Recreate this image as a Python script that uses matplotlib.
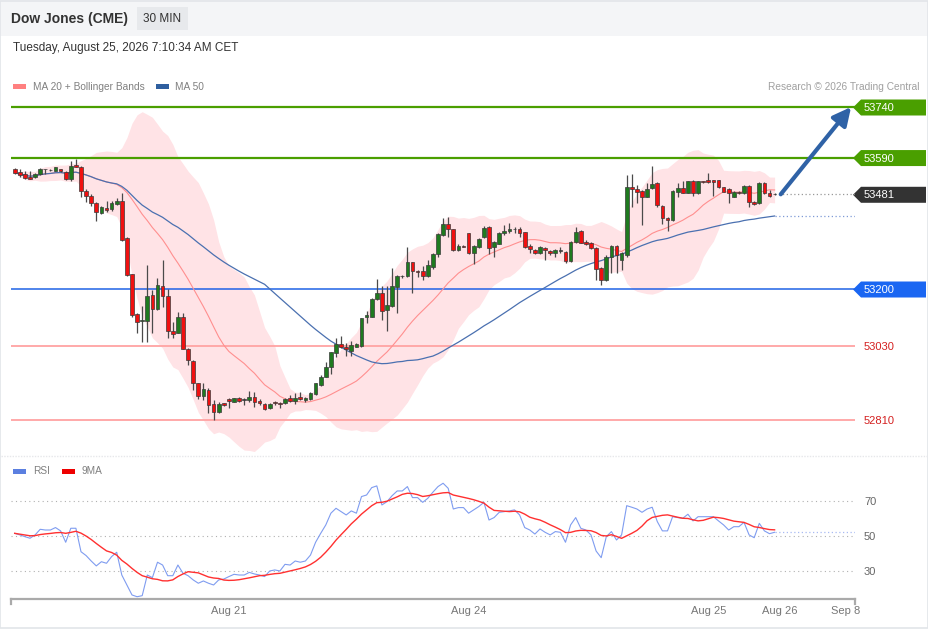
import numpy as np
import pandas as pd
import matplotlib
matplotlib.use("Agg")
import matplotlib.pyplot as plt
from matplotlib.patches import Polygon, Rectangle

plt.rcParams["font.family"] = ["Liberation Sans", "DejaVu Sans"]

# ---- data (30 min candles) ----
opens = [53555, 53547, 53540, 53533, 53531, 53540, 53555, 53553, 53551, 53555,
         53548, 53525, 53567, 53563, 53491, 53477, 53455, 53426, 53440, 53436,
         53452, 53461, 53350, 53244, 53125, 53106, 53106, 53182, 53140, 53209,
         53179, 53075, 53070, 53118, 53021, 52987, 52920, 52883, 52900, 52858,
         52836, 52861, 52875, 52866, 52876, 52871, 52871, 52881, 52867, 52859,
         52846, 52865, 52863, 52861, 52876, 52867, 52881, 52871, 52874, 52889,
         52915, 52940, 52969, 53011, 53036, 53028, 53016, 53028, 53031, 53118,
         53118, 53170, 53187, 53138, 53149, 53207, 53238, 53239, 53280, 53252,
         53254, 53239, 53266, 53303, 53360, 53393, 53377, 53316, 53328, 53365,
         53306, 53325, 53353, 53385, 53325, 53335, 53365, 53372, 53377, 53379,
         53368, 53327, 53317, 53306, 53323, 53314, 53306, 53313, 53311, 53284,
         53340, 53373, 53340, 53337, 53321, 53261, 53227, 53296, 53327, 53286,
         53301, 53504, 53496, 53492, 53474, 53499, 53514, 53446, 53411, 53405,
         53489, 53499, 53486, 53519, 53484, 53519, 53522, 53522, 53522, 53502,
         53496, 53474, 53489, 53484, 53506, 53459, 53454, 53514, 53484, 53481]
highs = [53558, 53556, 53550, 53551, 53545, 53559, 53557, 53557, 53563, 53557,
         53550, 53581, 53585, 53565, 53496, 53482, 53458, 53446, 53461, 53462,
         53469, 53484, 53353, 53246, 53128, 53149, 53271, 53197, 53232, 53286,
         53199, 53103, 53133, 53130, 53024, 52989, 52922, 52920, 52905, 52871,
         52866, 52863, 52877, 52878, 52879, 52876, 52898, 52895, 52873, 52863,
         52861, 52868, 52866, 52876, 52885, 52891, 52893, 52881, 52895, 52921,
         52945, 52984, 53014, 53056, 53060, 53039, 53046, 53040, 53114, 53136,
         53172, 53229, 53209, 53209, 53261, 53241, 53241, 53324, 53281, 53256,
         53268, 53286, 53306, 53365, 53410, 53415, 53379, 53333, 53331, 53367,
         53330, 53351, 53387, 53387, 53343, 53369, 53390, 53395, 53385, 53383,
         53370, 53335, 53320, 53327, 53325, 53316, 53320, 53325, 53314, 53343,
         53383, 53375, 53345, 53340, 53325, 53266, 53301, 53330, 53330, 53311,
         53539, 53542, 53509, 53494, 53514, 53565, 53516, 53449, 53413, 53494,
         53514, 53519, 53521, 53522, 53521, 53521, 53544, 53523, 53523, 53503,
         53499, 53491, 53491, 53509, 53509, 53461, 53516, 53516, 53494, 53485]
lows = [53541, 53533, 53526, 53525, 53528, 53538, 53541, 53550, 53549, 53547,
        53523, 53521, 53561, 53474, 53457, 53446, 53403, 53424, 53429, 53432,
        53449, 53343, 53238, 53118, 53068, 53044, 53044, 53070, 53138, 53148,
        53054, 53055, 53068, 53021, 52975, 52900, 52873, 52871, 52831, 52811,
        52833, 52854, 52846, 52864, 52866, 52856, 52866, 52851, 52856, 52841,
        52843, 52857, 52846, 52859, 52865, 52859, 52871, 52864, 52871, 52886,
        52912, 52938, 52948, 52999, 53025, 53001, 53001, 53027, 53028, 53099,
        53116, 53167, 53108, 53076, 53147, 53130, 53232, 53235, 53187, 53237,
        53227, 53237, 53259, 53296, 53357, 53355, 53314, 53314, 53324, 53304,
        53274, 53323, 53350, 53304, 53294, 53333, 53360, 53365, 53367, 53353,
        53323, 53308, 53303, 53304, 53286, 53301, 53296, 53306, 53276, 53280,
        53337, 53336, 53330, 53318, 53227, 53212, 53225, 53247, 53247, 53256,
        53296, 53444, 53455, 53390, 53472, 53496, 53444, 53392, 53373, 53403,
        53474, 53484, 53484, 53476, 53483, 53514, 53514, 53476, 53500, 53487,
        53454, 53472, 53482, 53482, 53444, 53449, 53452, 53482, 53474, 53478]
closes = [53545, 53537, 53530, 53527, 53540, 53556, 53556, 53552, 53561, 53551,
          53525, 53565, 53562, 53492, 53477, 53454, 53428, 53444, 53434, 53454,
          53462, 53345, 53241, 53123, 53103, 53107, 53179, 53140, 53212, 53180,
          53076, 53067, 53118, 53022, 52989, 52920, 52883, 52902, 52856, 52836,
          52859, 52856, 52867, 52876, 52869, 52871, 52879, 52866, 52861, 52843,
          52859, 52861, 52859, 52873, 52868, 52877, 52873, 52876, 52891, 52920,
          52940, 52969, 53012, 53036, 53028, 53021, 53034, 53036, 53113, 53123,
          53170, 53187, 53136, 53152, 53209, 53238, 53239, 53281, 53252, 53250,
          53239, 53271, 53303, 53362, 53393, 53377, 53316, 53328, 53325, 53306,
          53328, 53349, 53380, 53321, 53338, 53365, 53372, 53377, 53377, 53367,
          53325, 53318, 53306, 53325, 53316, 53306, 53317, 53313, 53284, 53340,
          53370, 53337, 53334, 53321, 53258, 53227, 53296, 53327, 53301, 53306,
          53504, 53496, 53489, 53474, 53496, 53512, 53449, 53410, 53405, 53492,
          53499, 53486, 53519, 53486, 53519, 53516, 53516, 53516, 53502, 53489,
          53484, 53489, 53484, 53506, 53459, 53452, 53514, 53484, 53476, 53481]

rsi = [51.5, 50.6, 49.6, 48.7, 50.6, 53.8, 53.4, 53.4, 54.8, 52.9,
       46.4, 54.4, 54.4, 41.0, 38.8, 35.7, 32.9, 35.3, 34.4, 38.2,
       40.7, 27.7, 22.0, 16.3, 15.3, 15.9, 27.7, 26.2, 35.0, 33.4,
       27.3, 27.3, 33.4, 28.7, 27.3, 24.9, 23.0, 24.3, 23.0, 22.0,
       24.9, 25.4, 26.8, 28.1, 27.7, 27.7, 29.2, 28.3, 27.7, 26.8,
       30.0, 30.6, 30.0, 33.8, 33.4, 35.7, 35.0, 35.7, 39.1, 46.4,
       51.5, 56.3, 63.0, 65.8, 63.9, 62.0, 64.3, 63.0, 72.5, 73.4,
       77.6, 78.6, 67.7, 69.6, 73.0, 75.7, 75.7, 78.2, 71.9, 71.9,
       69.2, 71.5, 75.0, 78.2, 80.1, 77.2, 65.4, 66.2, 66.2, 63.0,
       64.9, 66.8, 69.2, 59.1, 60.5, 63.5, 63.9, 64.3, 64.9, 62.0,
       54.8, 53.4, 51.1, 54.0, 52.1, 50.6, 52.5, 52.1, 46.4, 56.3,
       60.5, 54.4, 53.4, 50.6, 41.4, 37.6, 49.6, 52.5, 47.7, 50.6,
       67.3, 66.4, 65.4, 63.5, 65.4, 66.4, 58.2, 52.9, 52.9, 61.0,
       60.5, 60.1, 62.4, 58.6, 61.0, 61.0, 61.0, 61.0, 58.6, 56.3,
       53.4, 55.3, 55.3, 57.8, 50.6, 49.0, 57.2, 52.9, 51.3, 52.1]

resistances = [53740, 53590]
pivot = 53200
supports = [53030, 52810]
target = 53740

date_ticks = [42, 89, 136, 150, 163]
date_labels = ["Aug 21", "Aug 24", "Aug 25", "Aug 26", "Sep 8"]
rsi_levels = [30, 50, 70]

title = "Dow Jones (CME)"
interval = "30 MIN"
stamp = "Tuesday, August 25, 2026 7:10:34 AM CET"

# ---- colours ----
GREEN_LVL = "#4a9f00"
BLUE_LVL = "#1f63e6"
RED_LVL = "#ffa3a3"
CANDLE_UP = "#1f7a1f"
CANDLE_DN = "#f01010"
BAND = "#ffe3e6"
MA20_C = "#ff8f8f"
MA50_C = "#4a70b0"

# ---- indicators from closes ----
s = pd.Series(closes, dtype=float)
ma20 = s.rolling(20, min_periods=1).mean()
sd20 = s.rolling(20, min_periods=1).std(ddof=0).fillna(0)
upper = ma20 + 2 * sd20
lower = ma20 - 2 * sd20
ma50 = s.rolling(50, min_periods=1).mean()
rsi_s = pd.Series(rsi)
rsi_ma = rsi_s.rolling(9, min_periods=1).mean()

W, H = 929, 629
fig = plt.figure(figsize=(W / 100, H / 100), dpi=100)
fig.patch.set_facecolor("white")

# background/overlay in pixel coordinates (top-down)
bg = fig.add_axes([0, 0, 1, 1], zorder=0)
bg.set_xlim(0, W)
bg.set_ylim(H, 0)
bg.axis("off")

X0, X1 = 11, 855
x_lo, x_hi = (X0 - 14.7) / 5.1, (X1 - 14.7) / 5.1


def rect(top, bottom):
    return [X0 / W, 1 - bottom / H, (X1 - X0) / W, (bottom - top) / H]


ax = fig.add_axes(rect(95, 455), zorder=2)
ax.set_facecolor("none")
ax.set_xlim(x_lo, x_hi)
ax.set_ylim(52707.5, 53775.6)
ax.axis("off")

idx = np.arange(len(closes))
o = np.array(opens, dtype=float)
c = np.array(closes, dtype=float)

# bollinger band + moving averages
ax.fill_between(idx, lower, upper, color=BAND, lw=0, zorder=1)
ax.plot(idx, ma20, color=MA20_C, lw=0.8, zorder=3)
ax.plot(idx, ma50, color=MA50_C, lw=0.9, zorder=3)

# level lines
for lv in resistances:
    ax.hlines(lv, x_lo, x_hi, color=GREEN_LVL, lw=1.6, zorder=2)
ax.hlines(pivot, x_lo, x_hi, color=BLUE_LVL, lw=1.1, zorder=2)
for lv in supports:
    ax.hlines(lv, x_lo, x_hi, color=RED_LVL, lw=1.3, zorder=2)

# candles
cols = np.where(c > o, CANDLE_UP, np.where(c < o, CANDLE_DN, "#444444"))
ax.vlines(idx, lows, highs, color="#4a4a4a", lw=0.9, zorder=4)
body_lo = np.minimum(o, c)
body_h = np.maximum(np.abs(c - o), 1.5)
ax.bar(idx, body_h, bottom=body_lo, width=0.72, color=cols,
       edgecolor="#3a3a3a", linewidth=0.5, zorder=5)

# dotted extensions
ax.hlines(closes[-1], idx[-1], x_hi, color="#999999", lw=0.9,
          linestyles=(0, (1, 2)), zorder=3)
ax.hlines(ma50.iloc[-1], idx[-1], x_hi, color="#7f9ad6", lw=0.9,
          linestyles=(0, (1, 2)), zorder=3)

# target arrow
ax.annotate("", xy=(164.0, target), xytext=(150.2, closes[-1]),
            arrowprops=dict(arrowstyle="-|>,head_length=0.9,head_width=0.45",
                            color="#2f62a6", lw=3, mutation_scale=12,
                            shrinkA=0, shrinkB=0),
            zorder=6, annotation_clip=False)


def to_px(axis, val):
    return H - axis.transData.transform((0, val))[1]


def tag(val, color):
    cy = to_px(ax, val) + 0.5
    pts = [(853, cy), (861, cy - 8), (926, cy - 8), (926, cy + 8), (861, cy + 8)]
    bg.add_patch(Polygon(pts, closed=True, color=color, lw=0, zorder=3))
    bg.text(864, cy + 0.5, f"{val:.0f}", color="white", fontsize=8,
            va="center", ha="left", zorder=4)


for lv in resistances:
    tag(lv, GREEN_LVL)
tag(closes[-1], "#333333")
tag(pivot, "#1a66f2")
for lv in supports:
    bg.text(864, to_px(ax, lv) + 1, f"{lv:.0f}", color="#d42020", fontsize=8,
            va="center", ha="left")

# ---- RSI panel ----
ax2 = fig.add_axes(rect(478, 599), zorder=2)
ax2.set_facecolor("none")
ax2.set_xlim(x_lo, x_hi)
ax2.set_ylim(14, 83.1)
for sp in ["top", "left", "right"]:
    ax2.spines[sp].set_visible(False)
ax2.spines["bottom"].set_color("#aaaaaa")
ax2.spines["bottom"].set_linewidth(1.6)
ax2.hlines(rsi_levels, x_lo, x_hi, color="#b0b0b0", lw=0.8,
           linestyles=(0, (1, 3)))
ax2.plot(idx, rsi_s, color="#7f9cf0", lw=0.8, zorder=3)
ax2.plot(idx, rsi_ma, color="#ff3030", lw=1.0, zorder=4)
ax2.hlines(rsi[-1], idx[-1], x_hi, color="#a8baf2", lw=0.9,
           linestyles=(0, (1, 2)))
ax2.yaxis.tick_right()
ax2.set_yticks(rsi_levels)
ax2.set_yticklabels([str(v) for v in rsi_levels])
ax2.tick_params(axis="y", length=0, pad=6.5, labelsize=8, labelcolor="#666666")
ax2.set_xticks(date_ticks)
ax2.set_xticklabels(date_labels)
ax2.tick_params(axis="x", length=0, pad=5, labelsize=8, labelcolor="#777777")
for xe in (0, 1):
    ax2.plot([xe, xe], [0, -0.042], transform=ax2.transAxes, color="#aaaaaa",
             lw=1.6, clip_on=False)

# ---- header & legends ----
bg.add_patch(Rectangle((0, 0), W, 36, color="#f4f5f7", lw=0, zorder=0))
bg.hlines(455.5, 1, W - 1, color="#e6e7ea", lw=1, linestyles=(0, (1, 1)))
bg.add_patch(Rectangle((0.5, 0.5), W - 1.5, H - 1.5, fill=False,
                       edgecolor="#e2e5e9", lw=1.2, zorder=1))
bg.text(11, 19, title, fontsize=10, fontweight="bold", color="#333333",
        va="center", ha="left")
bg.add_patch(Rectangle((137, 7), 51, 23, color="#e7e9ec", lw=0, zorder=1))
bg.text(162.5, 19, interval, fontsize=8.5, color="#333333", va="center",
        ha="center", zorder=2)
bg.text(13, 48, stamp, fontsize=8.5, color="#333333", va="center", ha="left")

bg.add_patch(Rectangle((13, 84), 13, 4.5, color="#ff8080", lw=0))
bg.text(33, 86.5, "MA 20 + Bollinger Bands", fontsize=7.3, color="#808080",
        va="center", ha="left")
bg.add_patch(Rectangle((156, 84), 13, 4.5, color="#2f5f9f", lw=0))
bg.text(175, 86.5, "MA 50", fontsize=7.3, color="#808080", va="center", ha="left")
bg.text(920, 86.5, "Research \u00a9 2026 Trading Central", fontsize=7.3,
        color="#a0a0a0", va="center", ha="right")

bg.add_patch(Rectangle((13, 469), 13, 4.5, color="#5b7fe0", lw=0))
bg.text(33, 471.5, "RSI", fontsize=7.3, color="#808080", va="center", ha="left")
bg.add_patch(Rectangle((62, 469), 13, 4.5, color="#ee0000", lw=0))
bg.text(82, 471.5, "9MA", fontsize=7.3, color="#808080", va="center", ha="left")

fig.savefig("out.png", dpi=100)
